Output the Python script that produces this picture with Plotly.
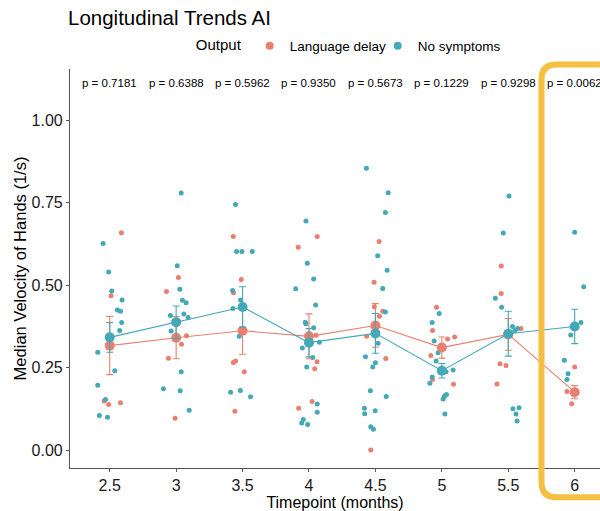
import plotly.graph_objects as go

# ---------------- data ----------------
timepoints = [2.5, 3, 3.5, 4, 4.5, 5, 5.5, 6]
tick_labels = ["2.5", "3", "3.5", "4", "4.5", "5", "5.5", "6"]
p_values = ["0.7181", "0.6388", "0.5962", "0.9350", "0.5673", "0.1229", "0.9298", "0.0062"]

# group means and error half-widths
ld_mean = [0.317, 0.341, 0.362, 0.345, 0.378, 0.311, 0.351, 0.176]
ld_err = [0.088, 0.064, 0.071, 0.068, 0.066, 0.032, 0.048, 0.020]
ns_mean = [0.342, 0.388, 0.434, 0.326, 0.354, 0.241, 0.353, 0.375]
ns_err = [0.045, 0.049, 0.061, 0.043, 0.060, 0.022, 0.068, 0.052]

# individual (jittered) observations: Language delay
ld_x = [2.588, 2.510, 2.458, 2.492, 2.581,
        3.017, 2.927, 3.078, 3.040, 2.942, 2.992,
        3.430, 3.490, 3.432, 3.430, 3.447, 3.513, 3.442,
        4.062, 3.919, 4.053, 4.060, 4.043, 4.023, 3.922,
        4.528, 4.490, 4.492, 4.555, 4.530, 4.434, 4.578, 4.465,
        4.960, 4.930, 5.096, 5.043, 4.917, 4.930, 5.088,
        5.447, 5.447, 5.596, 5.438, 5.483, 5.415,
        6.000, 5.942, 6.013, 5.977, 6.003, 5.992]
ld_y = [0.659, 0.468, 0.149, 0.139, 0.144,
        0.523, 0.481, 0.347, 0.321, 0.279, 0.097,
        0.647, 0.517, 0.477, 0.266, 0.270, 0.238, 0.118,
        0.647, 0.615, 0.348, 0.268, 0.247, 0.148, 0.127,
        0.632, 0.509, 0.435, 0.421, 0.406, 0.345, 0.278, 0.001,
        0.433, 0.363, 0.343, 0.337, 0.287, 0.214, 0.200,
        0.558, 0.475, 0.369, 0.262, 0.257, 0.201,
        0.252, 0.178, 0.174, 0.141, 0.182, 0.170]

# individual (jittered) observations: No symptoms
ns_x = [2.450, 2.492, 2.515, 2.593, 2.558, 2.581, 2.590, 2.575, 2.410, 2.538, 2.410, 2.468, 2.422, 2.483,
        3.038, 3.008, 3.028, 3.047, 3.075, 2.957, 3.058, 3.090, 2.962, 3.038, 2.904, 3.030, 3.098,
        3.447, 3.455, 3.495, 3.573, 3.425, 3.485, 3.427, 3.475, 3.410, 3.483, 3.560,
        3.977, 3.987, 4.035, 3.900, 4.050, 3.972, 3.977, 4.035, 3.950, 4.078, 4.028, 3.983, 4.062, 4.062,
        3.957, 3.945, 3.990,
        4.432, 4.596, 4.575, 4.517, 4.588, 4.555, 4.575, 4.520, 4.425, 4.500, 4.480, 4.462, 4.581, 4.417,
        4.419, 4.498, 4.465, 4.485,
        4.980, 4.927, 4.942, 4.972, 4.957, 5.085, 5.032, 4.927, 4.910, 5.035, 5.020, 5.010, 5.023,
        5.505, 5.462, 5.402, 5.450, 5.532, 5.570, 5.550, 5.535, 5.581, 5.558, 5.566,
        6.000, 6.068, 6.047, 5.970, 5.922, 5.950, 5.942]
ns_y = [0.626, 0.540, 0.482, 0.455, 0.425, 0.421, 0.387, 0.363, 0.297, 0.241, 0.197, 0.154, 0.105, 0.100,
        0.779, 0.559, 0.488, 0.454, 0.447, 0.408, 0.413, 0.402, 0.361, 0.238, 0.186, 0.180, 0.121,
        0.744, 0.602, 0.602, 0.602, 0.484, 0.455, 0.429, 0.345, 0.176, 0.181, 0.162,
        0.694, 0.566, 0.519, 0.489, 0.440, 0.388, 0.383, 0.371, 0.310, 0.327, 0.281, 0.252, 0.140, 0.115,
        0.093, 0.083, 0.078,
        0.854, 0.780, 0.720, 0.589, 0.545, 0.490, 0.419, 0.324, 0.283, 0.265, 0.252, 0.180, 0.163, 0.127,
        0.111, 0.120, 0.071, 0.064,
        0.414, 0.387, 0.331, 0.295, 0.270, 0.243, 0.238, 0.222, 0.203, 0.169, 0.164, 0.155, 0.110,
        0.770, 0.658, 0.460, 0.433, 0.375, 0.369, 0.363, 0.126, 0.129, 0.110, 0.089,
        0.660, 0.495, 0.387, 0.349, 0.273, 0.232, 0.214]

highlight_tp = 6

# ---------------- style ----------------
RED = "#E9806F"
TEAL = "#44A8B6"
FONT = "Liberation Sans, Arial, sans-serif"
X_RANGE = [2.201, 6.1905]
Y_RANGE = [-0.0536, 1.1545]

fig = go.Figure()

for name, xs, ys, col in [("Language delay", ld_x, ld_y, RED), ("No symptoms", ns_x, ns_y, TEAL)]:
    fig.add_trace(go.Scatter(x=xs, y=ys, mode="markers", showlegend=False,
                             marker=dict(color=col, size=5, line=dict(width=0)),
                             hoverinfo="skip", cliponaxis=False))

for name, m, e, col in [("Language delay", ld_mean, ld_err, RED), ("No symptoms", ns_mean, ns_err, TEAL)]:
    fig.add_trace(go.Scatter(x=timepoints, y=m, mode="lines+markers", showlegend=False,
                             line=dict(color=col, width=1.1),
                             marker=dict(color=col, size=10, line=dict(width=0)),
                             error_y=dict(type="data", array=e, visible=True, color=col,
                                          thickness=1.1, width=3.5)))

# legend entries
for name, col in [("Language delay", RED), ("No symptoms", TEAL)]:
    fig.add_trace(go.Scatter(x=[None], y=[None], mode="markers", name=name,
                             marker=dict(color=col, size=8)))

# p-value annotations
for tp, p in zip(timepoints, p_values):
    fig.add_annotation(x=tp, y=1.113, xref="x", yref="y", text=f"p = {p}", showarrow=False,
                       font=dict(size=11.5, color="black", family=FONT), xanchor="center")

# highlight box around last timepoint (paper coordinates derived from axis ranges)
def px_x(v):
    return (v - X_RANGE[0]) / (X_RANGE[1] - X_RANGE[0])

def px_y(v):
    return (v - Y_RANGE[0]) / (Y_RANGE[1] - Y_RANGE[0])

bx0 = px_x(highlight_tp - 0.25)
bx1 = px_x(highlight_tp + 0.35)
by0 = px_y(-0.142)
by1 = px_y(1.168)
rx = 15 / 530
ry = 15 / 399
path = (f"M {bx0+rx},{by1} L {bx1},{by1} L {bx1},{by0} L {bx0+rx},{by0} "
        f"Q {bx0},{by0} {bx0},{by0+ry} L {bx0},{by1-ry} Q {bx0},{by1} {bx0+rx},{by1} Z")
fig.add_shape(type="path", path=path, xref="paper", yref="paper",
              line=dict(color="#F5BF42", width=6), fillcolor="rgba(0,0,0,0)", layer="above")

fig.update_layout(
    width=600, height=511,
    margin=dict(l=70, r=0, t=69, b=43),
    paper_bgcolor="white", plot_bgcolor="white",
    font=dict(family=FONT, color="black"),
    title=dict(text="Longitudinal Trends AI", x=68 / 600, xanchor="left", y=1 - 18 / 511,
               yanchor="middle", font=dict(size=20.5, family=FONT, color="black")),
    legend=dict(orientation="h", x=0.528, xanchor="center", y=1.058, yanchor="middle",
                title=dict(text="Output", font=dict(size=15)), font=dict(size=13.5),
                itemwidth=30, entrywidth=83, entrywidthmode="pixels",
                bgcolor="rgba(0,0,0,0)"),
    xaxis=dict(range=X_RANGE, tickvals=timepoints, ticktext=tick_labels, showgrid=False,
               zeroline=False, showline=True, linecolor="#555", linewidth=1.1,
               ticks="outside", ticklen=3, tickcolor="#555", tickfont=dict(size=16, color="#1a1a1a"),
               title=dict(text="Timepoint (months)", font=dict(size=16), standoff=2)),
    yaxis=dict(range=Y_RANGE, tickvals=[0, 0.25, 0.5, 0.75, 1.0],
               ticktext=["0.00", "0.25", "0.50", "0.75", "1.00"], showgrid=False,
               zeroline=False, showline=True, linecolor="#555", linewidth=1.1,
               ticks="outside", ticklen=3, tickcolor="#555", tickfont=dict(size=16, color="#1a1a1a"),
               title=dict(text="Median Velocity of Hands (1/s)", font=dict(size=16.5), standoff=0)),
)

fig.write_html("out.html", config={"displayModeBar": False},
               post_script="document.body.style.margin='0';document.body.style.overflow='hidden';")
